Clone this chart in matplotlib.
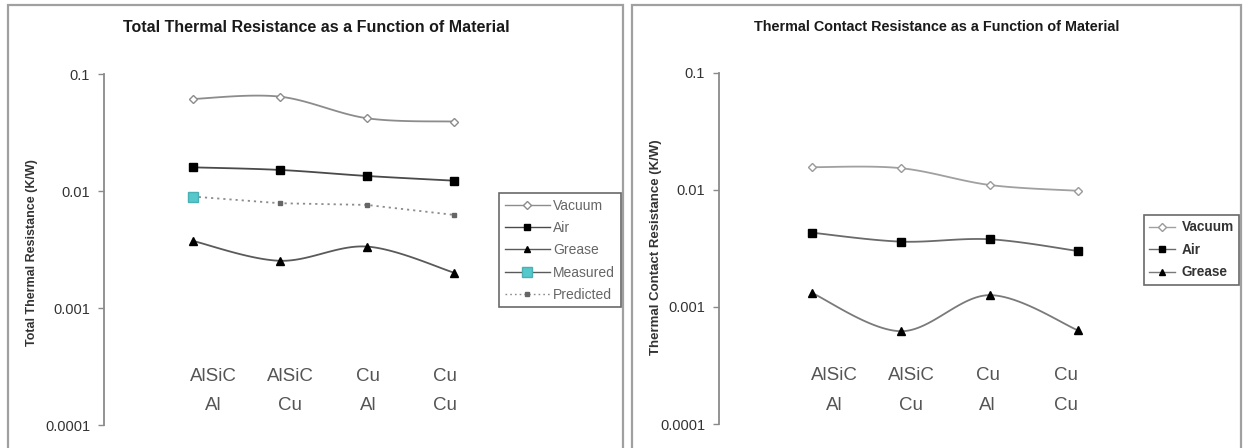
import numpy as np
import matplotlib
matplotlib.use("Agg")
import matplotlib.pyplot as plt
from matplotlib.patches import Rectangle
from matplotlib.ticker import FixedLocator, FixedFormatter, NullLocator
from matplotlib.lines import Line2D

plt.rcParams['font.family'] = ['Liberation Sans', 'DejaVu Sans']

# ---- data -------------------------------------------------------------
categories = ["AlSiC\nAl", "AlSiC\nCu", "Cu\nAl", "Cu\nCu"]

# Total thermal resistance (K/W)
total_vacuum = [0.0615, 0.0644, 0.0421, 0.0394]
total_air = [0.0160, 0.0152, 0.0135, 0.0123]
total_grease = [0.00376, 0.00254, 0.00336, 0.00201]
total_measured = [0.0090]
total_predicted = [0.0090, 0.00789, 0.00763, 0.00627]

# Thermal contact resistance (K/W)
contact_vacuum = [0.0156, 0.0153, 0.0110, 0.0098]
contact_air = [0.00430, 0.00361, 0.00378, 0.00300]
contact_grease = [0.00131, 0.00062, 0.00126, 0.00063]

ytick_values = [0.0001, 0.001, 0.01, 0.1]
ytick_labels = ["0.0001", "0.001", "0.01", "0.1"]

# ---- figure -----------------------------------------------------------
W, H = 1245, 448
fig = plt.figure(figsize=(W / 100, H / 100), dpi=100)


def px_box(x0, y_top, x1, y_bot):
    """Convert a pixel box (origin top-left) to figure fractions."""
    return [x0 / W, 1 - y_bot / H, (x1 - x0) / W, (y_bot - y_top) / H]


def smooth(xs, ys, n=40):
    """Smoothed Bezier path through points, computed in log space."""
    xs = np.asarray(xs, float)
    ly = np.log10(np.asarray(ys, float))
    P = np.column_stack([xs, ly])
    Pe = np.vstack([P[0], P, P[-1]])
    out = []
    t = np.linspace(0, 1, n)[:, None]
    for i in range(len(P) - 1):
        p0, p1, p2, p3 = Pe[i], Pe[i + 1], Pe[i + 2], Pe[i + 3]
        c1 = p1 + (p2 - p0) / 6.0
        c2 = p2 - (p3 - p1) / 6.0
        seg = ((1 - t) ** 3) * p1 + 3 * ((1 - t) ** 2) * t * c1 \
            + 3 * (1 - t) * t ** 2 * c2 + t ** 3 * p2
        out.append(seg if i == 0 else seg[1:])
    out = np.vstack(out)
    return out[:, 0], 10 ** out[:, 1]


def style_axes(ax, xlim, label_x, label_rows):
    ax.set_yscale('log')
    ax.set_ylim(1e-4, 1e-1)
    ax.set_xlim(*xlim)
    for s in ('top', 'right', 'bottom'):
        ax.spines[s].set_visible(False)
    ax.spines['left'].set_color('#8a8a8a')
    ax.spines['left'].set_linewidth(1.3)
    ax.yaxis.set_major_locator(FixedLocator(ytick_values))
    ax.yaxis.set_major_formatter(FixedFormatter(ytick_labels))
    ax.yaxis.set_minor_locator(NullLocator())
    ax.tick_params(axis='y', direction='out', length=4, width=1.0,
                   color='#8a8a8a', labelsize=10.5, labelcolor='#333333', pad=6)
    ax.set_xticks([])
    ax.patch.set_alpha(0)
    # category names printed inside the plot area
    for xpos, cat in zip(label_x, categories):
        top, bottom = cat.split("\n")
        ax.text(xpos, label_rows[0], top, transform=ax.get_xaxis_transform(),
                ha='center', va='center', fontsize=13.5, color='#555555')
        ax.text(xpos, label_rows[1], bottom, transform=ax.get_xaxis_transform(),
                ha='center', va='center', fontsize=13.5, color='#555555')


x = np.arange(len(categories))

# ---- panel frames -----------------------------------------------------
for (x0, x1) in [(8, 623), (632, 1241)]:
    fig.patches.append(Rectangle((x0 / W, -0.05), (x1 - x0) / W, 1.05 - 5 / H,
                                 transform=fig.transFigure, fill=False,
                                 edgecolor='#a0a0a0', linewidth=1.6))

# ---- left panel: total resistance ------------------------------------
ax1 = fig.add_axes(px_box(104, 74.3, 490, 425))
style_axes(ax1, ((104 - 192.7) / 87.1, (490 - 192.7) / 87.1),
           [0.233, 1.117, 2.012, 2.896], [(425 - 376) / 350.7, (425 - 405) / 350.7])

sx, sy = smooth(x, total_vacuum)
ax1.plot(sx, sy, color='#8c8c8c', lw=1.3)
ax1.plot(x, total_vacuum, ls='none', marker='D', ms=4.5, mfc='white',
         mec='#8c8c8c', mew=1.0)
sx, sy = smooth(x, total_air)
ax1.plot(sx, sy, color='#4a4a4a', lw=1.3)
ax1.plot(x, total_air, ls='none', marker='s', ms=5.5, color='black')
sx, sy = smooth(x, total_grease)
ax1.plot(sx, sy, color='#5a5a5a', lw=1.3)
ax1.plot(x, total_grease, ls='none', marker='^', ms=5.5, color='black')
ax1.plot(x, total_predicted, ls=(0, (1.2, 2.2)), color='#8c8c8c', lw=1.3,
         marker='s', ms=3, mfc='#666666', mec='#666666')
ax1.plot(x[:len(total_measured)], total_measured, ls='none', marker='s', ms=7,
         color='#55c8cc', mec='#4ab0b4')

fig.text(316 / W, 1 - 28 / H, "Total Thermal Resistance as a Function of Material",
         ha='center', va='center', fontsize=11.5, fontweight='bold', color='#1a1a1a')
fig.text(32 / W, 1 - 253 / H, "Total Thermal Resistance (K/W)", rotation=90,
         ha='center', va='center', fontsize=9, fontweight='bold', color='#333333')

h_left = [
    Line2D([], [], color='#8c8c8c', lw=1.0, marker='D', ms=4, mfc='white', mec='#8c8c8c'),
    Line2D([], [], color='#4a4a4a', lw=1.0, marker='s', ms=5, mfc='black', mec='black'),
    Line2D([], [], color='#5a5a5a', lw=1.0, marker='^', ms=5, mfc='black', mec='black'),
    Line2D([], [], color='#5a5a5a', lw=1.0, marker='s', ms=7, mfc='#55c8cc', mec='#4ab0b4'),
    Line2D([], [], color='#8c8c8c', lw=1.0, ls=(0, (1.2, 2.2)), marker='s', ms=3,
           mfc='#666666', mec='#666666'),
]
leg1 = fig.legend(h_left, ["Vacuum", "Air", "Grease", "Measured", "Predicted"],
                  loc='upper left', bbox_to_anchor=(499 / W, 1 - 193 / H),
                  bbox_transform=fig.transFigure, borderaxespad=0, fontsize=10,
                  handlelength=3.3, handletextpad=0.2, labelspacing=0.6,
                  borderpad=0.4, fancybox=False, frameon=True, numpoints=1)
leg1.get_frame().set_edgecolor('#444444')
leg1.get_frame().set_linewidth(1.2)
for t in leg1.get_texts():
    t.set_color('#666666')

# ---- right panel: contact resistance ---------------------------------
ax2 = fig.add_axes(px_box(719, 72.7, 1130, 424))
style_axes(ax2, ((719 - 812.3) / 88.6, (1130 - 812.3) / 88.6),
           [0.245, 1.114, 1.978, 2.858], [(424 - 376) / 351.3, (424 - 405) / 351.3])

sx, sy = smooth(x, contact_vacuum)
ax2.plot(sx, sy, color='#a0a0a0', lw=1.3)
ax2.plot(x, contact_vacuum, ls='none', marker='D', ms=4.5, mfc='white',
         mec='#9a9a9a', mew=1.0)
sx, sy = smooth(x, contact_air)
ax2.plot(sx, sy, color='#6a6a6a', lw=1.3)
ax2.plot(x, contact_air, ls='none', marker='s', ms=5.5, color='black')
sx, sy = smooth(x, contact_grease)
ax2.plot(sx, sy, color='#7a7a7a', lw=1.3)
ax2.plot(x, contact_grease, ls='none', marker='^', ms=5.5, color='black')

fig.text(937 / W, 1 - 27 / H, "Thermal Contact Resistance as a Function of Material",
         ha='center', va='center', fontsize=10.4, fontweight='bold', color='#1a1a1a')
fig.text(656 / W, 1 - 247 / H, "Thermal Contact Resistance (K/W)", rotation=90,
         ha='center', va='center', fontsize=9.5, fontweight='bold', color='#333333')

h_right = [
    Line2D([], [], color='#a0a0a0', lw=1.0, marker='D', ms=4, mfc='white', mec='#9a9a9a'),
    Line2D([], [], color='#6a6a6a', lw=1.0, marker='s', ms=5, mfc='black', mec='black'),
    Line2D([], [], color='#7a7a7a', lw=1.0, marker='^', ms=5, mfc='black', mec='black'),
]
leg2 = fig.legend(h_right, ["Vacuum", "Air", "Grease"],
                  loc='upper left', bbox_to_anchor=(1144 / W, 1 - 215 / H),
                  bbox_transform=fig.transFigure, borderaxespad=0,
                  handlelength=1.9, handletextpad=0.45, labelspacing=0.62,
                  borderpad=0.4, fancybox=False, frameon=True, numpoints=1,
                  prop={'weight': 'bold', 'size': 9.8})
leg2.get_frame().set_edgecolor('#444444')
leg2.get_frame().set_linewidth(1.2)
for t in leg2.get_texts():
    t.set_color('#333333')

fig.savefig("out.png", dpi=100)
